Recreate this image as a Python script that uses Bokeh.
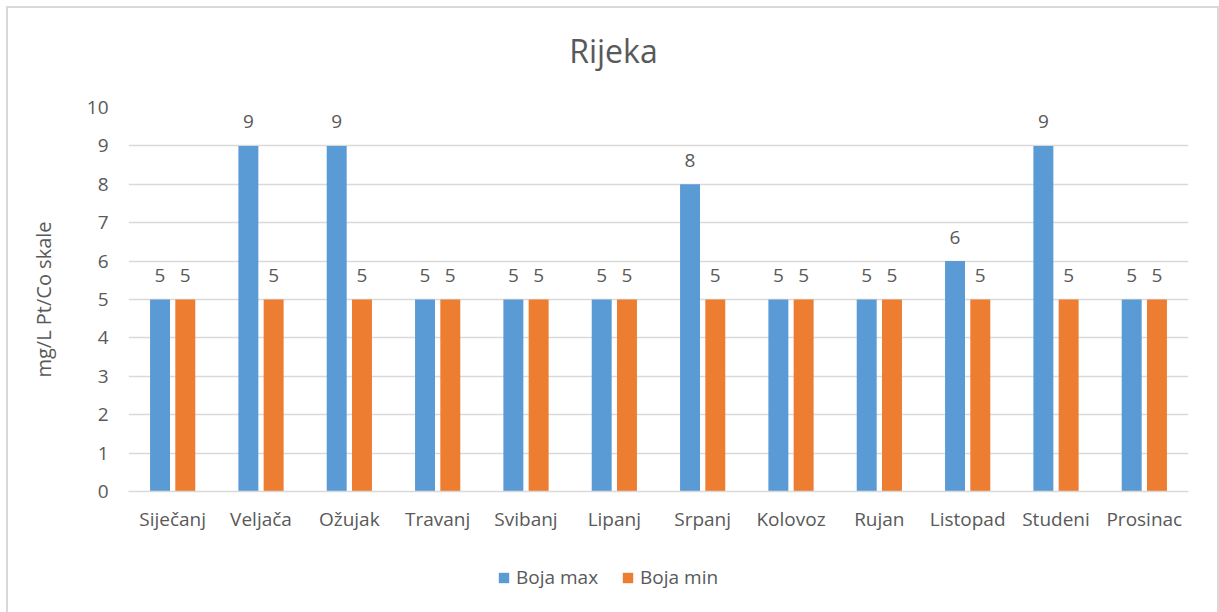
from bokeh.plotting import figure
from bokeh.models import (ColumnDataSource, LabelSet, Label, Legend, LegendItem, FactorRange,
                          Range1d, FixedTicker)
from bokeh.core.properties import value
from bokeh.layouts import column
from bokeh.transform import dodge
from bokeh.embed import file_html
from bokeh.resources import INLINE

title_text = "Rijeka"
y_label = "mg/L Pt/Co skale"
months = ["Siječanj", "Veljača", "Ožujak", "Travanj", "Svibanj", "Lipanj",
          "Srpanj", "Kolovoz", "Rujan", "Listopad", "Studeni", "Prosinac"]
boja_max = [5, 9, 9, 5, 5, 5, 8, 5, 5, 6, 9, 5]
boja_min = [5, 5, 5, 5, 5, 5, 5, 5, 5, 5, 5, 5]
series_names = ["Boja max", "Boja min"]
y_ticks = list(range(0, 11))

BLUE = "#5B9BD5"
ORANGE = "#ED7D31"
TXT = "#595959"
GRID = "#D9D9D9"
FONT = "Open Sans"
FS = "19px"
W_FIG = 1209

src = ColumnDataSource(dict(
    m=months, mx=boja_max, mn=boja_min,
    mx_s=[str(v) for v in boja_max], mn_s=[str(v) for v in boja_min],
))

# ---- title strip (its frame is aligned with the main chart's frame) ----
tf = figure(width=W_FIG, height=85, output_backend="svg", toolbar_location=None,
            min_border=0, x_range=(0, 1), y_range=(0, 1))
tf.axis.visible = False
tf.grid.visible = False
tf.outline_line_color = None
tf.add_layout(Label(x=0.4575, y=0.505, text=title_text, text_align="center", text_baseline="middle",
                    text_font=FONT, text_font_size="32px", text_color=TXT))

# ---- main chart ----
p = figure(x_range=FactorRange(*months), y_range=Range1d(0, 10),
           width=W_FIG, height=443, output_backend="svg", toolbar_location=None,
           min_border_left=120, min_border_right=29, min_border_top=14, min_border_bottom=45)

p.outline_line_color = None
p.border_fill_color = "white"
p.background_fill_color = "white"

OFF = 0.143
W = 0.226
r1 = p.vbar(x=dodge("m", -OFF, range=p.x_range), top="mx", width=W, source=src,
            fill_color=BLUE, line_color=None)
r2 = p.vbar(x=dodge("m", OFF, range=p.x_range), top="mn", width=W, source=src,
            fill_color=ORANGE, line_color=None)

for col, txt, off in (("mx", "mx_s", -OFF), ("mn", "mn_s", OFF)):
    p.add_layout(LabelSet(x=dodge("m", off, range=p.x_range), y=col, text=txt, source=src,
                          y_offset=24, text_align="center", text_baseline="middle",
                          text_font=value(FONT), text_font_size=value(FS), text_color=TXT))

p.yaxis.ticker = FixedTicker(ticks=y_ticks)
p.yaxis.axis_line_color = None
p.yaxis.major_tick_line_color = None
p.yaxis.minor_tick_line_color = None
p.yaxis.major_label_text_font = FONT
p.yaxis.major_label_text_font_size = FS
p.yaxis.major_label_text_color = TXT
p.yaxis.major_label_standoff = 14
p.yaxis.axis_label = y_label
p.yaxis.axis_label_text_font = FONT
p.yaxis.axis_label_text_font_size = "20px"
p.yaxis.axis_label_text_font_style = "normal"
p.yaxis.axis_label_text_color = TXT
p.yaxis.axis_label_standoff = 27

p.xaxis.axis_line_color = GRID
p.xaxis.axis_line_width = 1.5
p.xaxis.major_tick_line_color = None
p.xaxis.minor_tick_line_color = None
p.xaxis.major_label_text_font = FONT
p.xaxis.major_label_text_font_size = FS
p.xaxis.major_label_text_color = TXT
p.xaxis.major_label_standoff = 8

p.xgrid.grid_line_color = None
p.ygrid.grid_line_color = GRID
p.ygrid.grid_line_width = 1.5
p.x_range.range_padding = 0
p.x_range.factor_padding = 0

# ---- legend strip (bars drawn out of view so only the legend shows) ----
lf = figure(width=W_FIG, height=76, output_backend="svg", toolbar_location=None,
            min_border=0, x_range=FactorRange(*months), y_range=Range1d(100, 101))
lf.axis.visible = False
lf.grid.visible = False
lf.outline_line_color = None
lf.border_fill_color = "white"
l1 = lf.vbar(x=dodge("m", -OFF, range=lf.x_range), top="mx", width=W, source=src,
             fill_color=BLUE, line_color=None)
l2 = lf.vbar(x=dodge("m", OFF, range=lf.x_range), top="mn", width=W, source=src,
             fill_color=ORANGE, line_color=None)
legend = Legend(items=[LegendItem(label=series_names[0], renderers=[l1]),
                       LegendItem(label=series_names[1], renderers=[l2])],
                orientation="horizontal", location=(369, 22),
                label_text_font=FONT, label_text_font_size=FS, label_text_color=TXT,
                glyph_width=13, glyph_height=13, label_standoff=6, spacing=23,
                border_line_color=None, background_fill_alpha=0, padding=0, margin=0)
lf.add_layout(legend, "center")

layout = column(tf, p, lf, spacing=0, margin=(8, 0, 0, 8),
                styles={"outline": "2px solid #D9D9D9"})

open("out.html", "w").write(file_html(layout, INLINE))
